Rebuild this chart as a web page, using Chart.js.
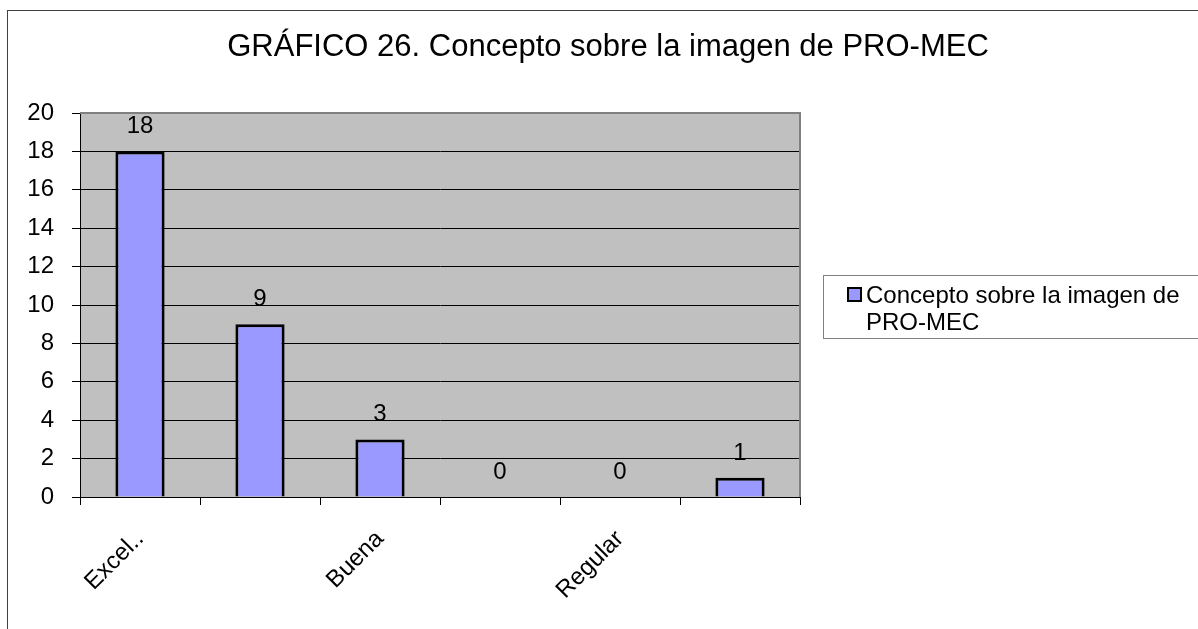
<!DOCTYPE html>
<html>
<head>
<meta charset="utf-8">
<script src="https://cdn.jsdelivr.net/npm/chart.js@4/dist/chart.umd.min.js"></script>
<style>
  html, body { margin: 0; padding: 0; background: #fff; }
  #wrap { width: 1198px; height: 629px; position: relative; }
</style>
</head>
<body>
<div id="wrap"><canvas id="chart26"></canvas></div>
<script>
const titleText = 'GRÁFICO 26. Concepto sobre la imagen de PRO-MEC';
const seriesName = ['Concepto sobre la imagen de', 'PRO-MEC'];
const categories = ['Excel..', '', 'Buena', '', 'Regular', ''];
const values = [18, 9, 3, 0, 0, 1];
const yMin = 0, yMax = 20, yStep = 2;

const FONT = '"Liberation Sans", Arial, sans-serif';

const decor = {
    id: 'decor',
    beforeDraw(chart) {
        const { ctx, chartArea: a } = chart;
        ctx.save();
        ctx.fillStyle = '#fff';
        ctx.fillRect(0, 0, chart.width, chart.height);
        ctx.strokeStyle = '#404040';
        ctx.lineWidth = 1;
        ctx.strokeRect(7.5, 10.5, chart.width, chart.height);
        ctx.fillStyle = '#C0C0C0';
        ctx.fillRect(a.left, a.top, a.right - a.left, a.bottom - a.top);
        ctx.restore();
    },
    afterDraw(chart) {
        const { ctx, chartArea: a } = chart;
        ctx.save();
        // plot border top/right
        ctx.strokeStyle = '#808080';
        ctx.lineWidth = 2;
        ctx.beginPath();
        ctx.moveTo(a.left, a.top);
        ctx.lineTo(a.right, a.top);
        ctx.lineTo(a.right, a.bottom);
        ctx.stroke();

        // title
        ctx.fillStyle = '#000';
        ctx.font = '31px ' + FONT;
        ctx.textAlign = 'center';
        ctx.textBaseline = 'alphabetic';
        ctx.fillText(titleText, 608, 56);

        // value labels
        ctx.font = '24px ' + FONT;
        const meta = chart.getDatasetMeta(0);
        meta.data.forEach((bar, i) => {
            ctx.fillText(String(values[i]), bar.x, bar.y - 18);
        });

        // legend
        ctx.strokeStyle = '#808080';
        ctx.lineWidth = 1;
        ctx.strokeRect(823.5, 275.5, 400, 63);
        ctx.fillStyle = '#9999FF';
        ctx.fillRect(848, 288, 13, 13);
        ctx.strokeStyle = '#000';
        ctx.lineWidth = 2;
        ctx.strokeRect(848, 288, 13, 13);
        ctx.fillStyle = '#000';
        ctx.textAlign = 'left';
        ctx.fillText(seriesName[0], 866, 303);
        ctx.fillText(seriesName[1], 866, 330);
        ctx.restore();
    }
};

new Chart(document.getElementById('chart26'), {
    type: 'bar',
    data: {
        labels: categories,
        datasets: [{
            label: seriesName.join(' '),
            data: values,
            backgroundColor: '#9999FF',
            borderColor: '#000',
            borderWidth: 3,
            categoryPercentage: 1,
            barPercentage: 0.41
        }]
    },
    options: {
        responsive: true,
        maintainAspectRatio: false,
        animation: false,
        layout: { padding: { top: 113, right: 398, left: 0, bottom: 0 } },
        plugins: {
            legend: { display: false },
            title: { display: false },
            tooltip: { enabled: false }
        },
        scales: {
            x: {
                afterFit(scale) { scale.height = 132; },
                grid: {
                    offset: true,
                    drawOnChartArea: false,
                    color: '#000',
                    tickLength: 8
                },
                border: { color: '#000', width: 1 },
                ticks: {
                    autoSkip: false,
                    minRotation: 45,
                    maxRotation: 45,
                    padding: 20,
                    color: '#000',
                    font: { family: FONT, size: 24 }
                }
            },
            y: {
                min: yMin,
                max: yMax,
                afterFit(scale) { scale.width = 80; },
                grid: { color: '#000', tickLength: 8, lineWidth: 1 },
                border: { color: '#000', width: 1 },
                ticks: {
                    stepSize: yStep,
                    padding: 18,
                    color: '#000',
                    font: { family: FONT, size: 24 }
                }
            }
        }
    },
    plugins: [decor]
});
</script>
</body>
</html>
